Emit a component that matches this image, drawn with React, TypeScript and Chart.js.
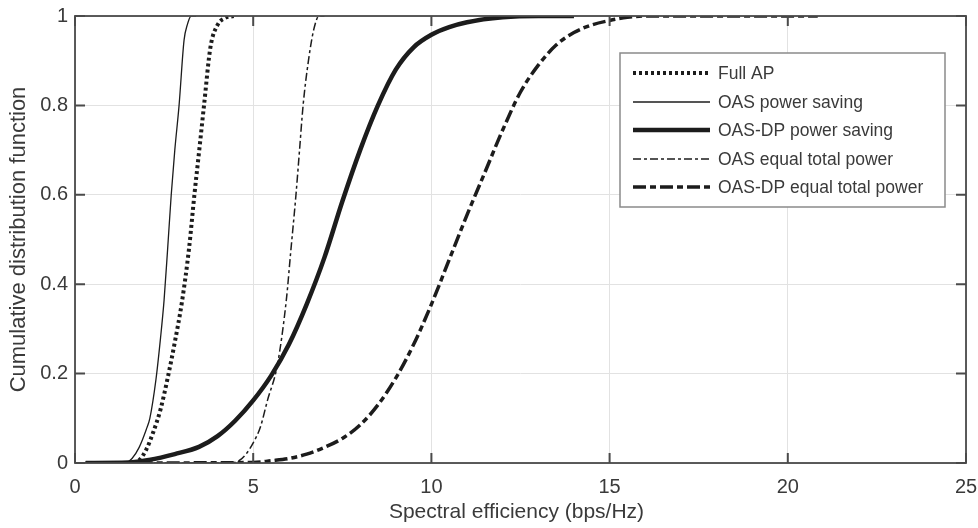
import React, { useEffect, useRef } from 'react';
import { Chart, registerables } from 'chart.js';

Chart.register(...registerables);

// ---- data ----
const xTickValues = [0, 5, 10, 15, 20, 25];
const yTickValues = [0, 0.2, 0.4, 0.6, 0.8, 1];
const xAxisTitle = 'Spectral efficiency (bps/Hz)';
const yAxisTitle = 'Cumulative distribution function';

const seriesNames = [
  'Full AP',
  'OAS power saving',
  'OAS-DP power saving',
  'OAS equal total power',
  'OAS-DP equal total power',
];

const fullApX = [0.3, 1.6, 1.8, 2.0, 2.2, 2.4, 2.6, 2.8, 3.0, 3.2, 3.35, 3.5, 3.62, 3.8, 4.0, 4.2, 4.45];
const fullApY = [0, 0, 0.006, 0.03, 0.07, 0.12, 0.19, 0.27, 0.36, 0.48, 0.6, 0.71, 0.8, 0.93, 0.98, 0.995, 1];

const oasPsX = [0.3, 1.4, 1.6, 1.8, 2.0, 2.1, 2.27, 2.4, 2.5, 2.6, 2.7, 2.8, 2.92, 3.06, 3.15, 3.26, 3.4];
const oasPsY = [0, 0, 0.01, 0.035, 0.075, 0.1, 0.186, 0.28, 0.365, 0.48, 0.6, 0.7, 0.8, 0.946, 0.98, 1, 1];

const oasDpPsX = [0.3, 1.5, 2.08, 2.8, 3.48, 4.0, 4.5, 5.0, 5.5, 6.0, 6.5, 7.0, 7.5, 8.0, 8.5, 9.0, 9.5, 10.0, 10.5, 11.0, 12.0, 13.0, 14.0];
const oasDpPsY = [0, 0.001, 0.007, 0.02, 0.036, 0.06, 0.095, 0.14, 0.195, 0.265, 0.355, 0.46, 0.585, 0.7, 0.8, 0.88, 0.93, 0.958, 0.975, 0.986, 0.997, 1, 1];

const oasEqX = [0.3, 4.3, 4.6, 4.8, 5.0, 5.2, 5.4, 5.68, 5.93, 6.05, 6.2, 6.3, 6.4, 6.55, 6.7, 6.85, 7.0];
const oasEqY = [0, 0, 0.005, 0.02, 0.045, 0.08, 0.14, 0.22, 0.365, 0.47, 0.6, 0.7, 0.8, 0.9, 0.97, 1, 1];

const oasDpEqX = [0.3, 5.0, 5.5, 6.0, 6.5, 7.0, 7.5, 8.0, 8.5, 9.0, 9.5, 10.0, 10.5, 11.0, 11.5, 12.0, 12.5, 13.0, 13.5, 14.0, 14.5, 15.0, 15.5, 16.0, 20.84];
const oasDpEqY = [0, 0.001, 0.005, 0.01, 0.02, 0.035, 0.055, 0.085, 0.13, 0.19, 0.265, 0.355, 0.455, 0.555, 0.65, 0.745, 0.83, 0.89, 0.935, 0.963, 0.98, 0.99, 0.997, 1, 1];

// ---- styles ----
const LINE = '#1c1c1c';
const TEXT = '#3a3a3a';
const FONT = '"Liberation Sans", Arial, Helvetica, sans-serif';

const styles = [
  { width: 4, dash: [3, 3] },
  { width: 1.3, dash: [] as number[] },
  { width: 4.5, dash: [] as number[] },
  { width: 1.5, dash: [8, 3, 3, 3] },
  { width: 3.5, dash: [13, 4, 6, 4] },
];

const zip = (xs: number[], ys: number[]) => xs.map((x, i) => ({ x, y: ys[i] }));

const decorPlugin = {
  id: 'decor',
  afterDatasetsDraw(chart: any) {
    const { ctx, chartArea } = chart;
    const { left, right, top, bottom } = chartArea;
    const xs = chart.scales.x;
    const ys = chart.scales.y;
    ctx.save();
    // box
    ctx.strokeStyle = '#4a4a4a';
    ctx.lineWidth = 1.8;
    ctx.setLineDash([]);
    ctx.strokeRect(left, top, right - left, bottom - top);
    // inward ticks
    const tl = 10;
    ctx.lineWidth = 2;
    ctx.beginPath();
    xTickValues.forEach((v) => {
      const px = xs.getPixelForValue(v);
      ctx.moveTo(px, bottom);
      ctx.lineTo(px, bottom - tl);
      ctx.moveTo(px, top);
      ctx.lineTo(px, top + tl);
    });
    yTickValues.forEach((v) => {
      const py = ys.getPixelForValue(v);
      ctx.moveTo(left, py);
      ctx.lineTo(left + tl, py);
      ctx.moveTo(right, py);
      ctx.lineTo(right - tl, py);
    });
    ctx.stroke();

    // axis titles
    ctx.fillStyle = TEXT;
    ctx.font = `21px ${FONT}`;
    ctx.textAlign = 'center';
    ctx.textBaseline = 'middle';
    ctx.fillText(xAxisTitle, (left + right) / 2 - 4, 512);
    ctx.save();
    ctx.translate(19, (top + bottom) / 2);
    ctx.rotate(-Math.PI / 2);
    ctx.font = `22px ${FONT}`;
    ctx.fillText(yAxisTitle, 0, 0);
    ctx.restore();

    // legend
    const bx = 620, by = 53, bw = 325, bh = 154;
    ctx.fillStyle = '#ffffff';
    ctx.fillRect(bx, by, bw, bh);
    ctx.strokeStyle = '#8a8a8a';
    ctx.lineWidth = 1.5;
    ctx.strokeRect(bx, by, bw, bh);
    const rows = [73, 102, 130, 159, 187];
    ctx.font = `17.5px ${FONT}`;
    ctx.textAlign = 'left';
    ctx.textBaseline = 'middle';
    seriesNames.forEach((name, i) => {
      const st = styles[i];
      ctx.strokeStyle = LINE;
      ctx.lineWidth = st.width;
      ctx.lineCap = 'butt';
      ctx.setLineDash(st.dash);
      ctx.beginPath();
      ctx.moveTo(633, rows[i]);
      ctx.lineTo(710, rows[i]);
      ctx.stroke();
      ctx.setLineDash([]);
      ctx.fillStyle = TEXT;
      ctx.fillText(name, 718, rows[i] + 1);
    });
    ctx.restore();
  },
};

export default function App() {
  const ref = useRef<HTMLCanvasElement | null>(null);
  useEffect(() => {
    if (!ref.current) return;
    const all = [
      zip(fullApX, fullApY),
      zip(oasPsX, oasPsY),
      zip(oasDpPsX, oasDpPsY),
      zip(oasEqX, oasEqY),
      zip(oasDpEqX, oasDpEqY),
    ];
    const chart = new Chart(ref.current, {
      type: 'line',
      data: {
        datasets: all.map((d, i) => ({
          label: seriesNames[i],
          data: d,
          borderColor: LINE,
          borderWidth: styles[i].width,
          borderDash: styles[i].dash,
          borderCapStyle: 'butt',
          pointRadius: 0,
          fill: false,
          cubicInterpolationMode: 'monotone',
        })),
      },
      options: {
        animation: false,
        responsive: false,
        maintainAspectRatio: false,
        layout: { padding: { left: 0, right: 12, top: 16, bottom: 0 } },
        plugins: { legend: { display: false }, tooltip: { enabled: false } },
        scales: {
          x: {
            type: 'linear',
            min: 0,
            max: 25,
            afterFit: (s: any) => { s.height = 65; s.paddingLeft = 0; s.paddingRight = 0; },
            afterBuildTicks: (s: any) => { s.ticks = xTickValues.map((v) => ({ value: v })); },
            grid: { color: '#e2e2e2', lineWidth: 1, drawTicks: false },
            border: { display: false },
            ticks: { color: TEXT, font: { size: 20, family: FONT }, padding: 12, maxRotation: 0 },
          },
          y: {
            type: 'linear',
            min: 0,
            max: 1,
            afterFit: (s: any) => { s.width = 75; s.paddingTop = 0; s.paddingBottom = 0; },
            afterBuildTicks: (s: any) => { s.ticks = yTickValues.map((v) => ({ value: v })); },
            grid: { color: '#e2e2e2', lineWidth: 1, drawTicks: false },
            border: { display: false },
            ticks: { color: TEXT, font: { size: 20, family: FONT }, padding: 7, callback: (v: any) => String(+Number(v).toFixed(1)) },
          },
        },
      },
      plugins: [decorPlugin],
    } as any);
    return () => chart.destroy();
  }, []);
  return (
    <div style={{ position: 'fixed', left: 0, top: 0, width: 978, height: 528, background: '#fff' }}>
      <canvas ref={ref} width={978} height={528} style={{ width: 978, height: 528, display: 'block' }} />
    </div>
  );
}
